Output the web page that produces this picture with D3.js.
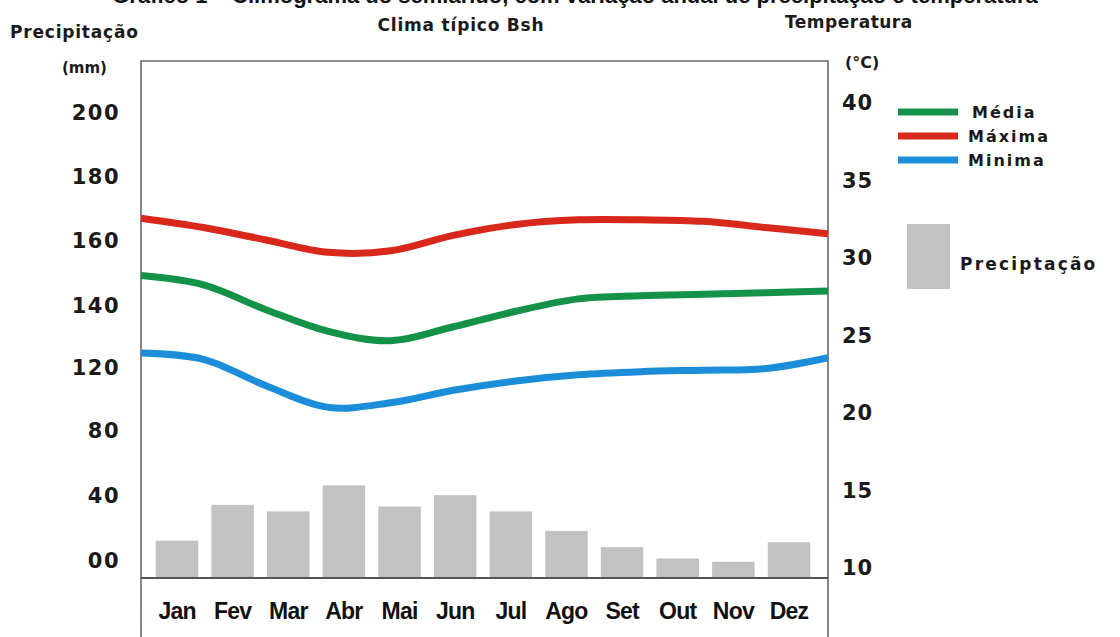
<!DOCTYPE html>
<html>
<head>
<meta charset="utf-8">
<script src="https://cdn.jsdelivr.net/npm/d3@7"></script>
<style>
  html, body { margin: 0; padding: 0; background: #fff; }
  svg { display: block; }
  .lbl { font-family: "DejaVu Sans", "Liberation Sans", Arial, sans-serif; font-weight: bold; fill: #1a1a1a; }
  .mon { font-family: "Liberation Sans Narrow", "Liberation Sans", Arial, sans-serif; font-weight: bold; fill: #111; }
  .ttl { font-family: "Liberation Sans", Arial, sans-serif; font-weight: bold; fill: #111; }
</style>
</head>
<body>
<script>
// Climograma: precipitação mensal (barras) e temperaturas (linhas)
const months = ["Jan","Fev","Mar","Abr","Mai","Jun","Jul","Ago","Set","Out","Nov","Dez"];
const precip = [23, 45, 41, 57, 44, 51, 41, 29, 19, 12, 10, 22];          // mm
const tMedia  = [28.8, 28.2, 26.6, 25.2, 24.6, 25.5, 26.5, 27.3, 27.5, 27.6, 27.7, 27.8];
const tMaxima = [32.5, 31.9, 31.1, 30.3, 30.4, 31.4, 32.1, 32.4, 32.4, 32.3, 31.9, 31.5];
const tMinima = [23.8, 23.4, 21.7, 20.3, 20.6, 21.4, 22.0, 22.4, 22.6, 22.7, 22.8, 23.5];
const precipTicks = [0, 40, 80, 120, 140, 160, 180, 200];
const precipTickLabels = ["00", "40", "80", "120", "140", "160", "180", "200"];
const tempTicks = [10, 15, 20, 25, 30, 35, 40];

const W = 1120, H = 637;
const frame = { left: 141, right: 828, top: 61, base: 578 };

const svg = d3.select("body").append("svg").attr("width", W).attr("height", H);

// Título da figura (linha superior, recortada pela borda)
svg.append("text").attr("class", "ttl").attr("x", 575).attr("y", 3).attr("font-size", 22)
  .attr("text-anchor", "middle")
  .text("Gráfico 1 – Climograma do semiárido, com variação anual de precipitação e temperatura");

// Escalas
const yPrec = d3.scaleLinear()
  .domain(precipTicks)
  .range([578, 513, 448, 385, 323, 258, 194, 130]);
const yTemp = d3.scaleLinear().domain([10, 40]).range([567, 102]);
const xBand = d3.scaleBand().domain(months).range([149.2, 816.8]).paddingInner(0.236).paddingOuter(0.118);
const xLine = d3.scalePoint().domain(months).range([frame.left, frame.right]);

// Barras de precipitação
svg.append("g").selectAll("rect").data(precip).join("rect")
  .attr("x", (d, i) => xBand(months[i]))
  .attr("width", xBand.bandwidth())
  .attr("y", d => yPrec(d))
  .attr("height", d => yPrec(0) - yPrec(d))
  .attr("fill", "#c2c2c2");

// Moldura do gráfico
const fr = svg.append("g").attr("stroke", "#6a6a6a").attr("stroke-width", 1.6).attr("fill", "none");
fr.append("path").attr("d", `M${frame.left},${H + 2} V${frame.top} H${frame.right} V${H + 2}`);
fr.append("line").attr("x1", frame.left).attr("x2", frame.right).attr("y1", frame.base).attr("y2", frame.base)
  .attr("stroke", "#555").attr("stroke-width", 2);

// Linhas de temperatura
const line = d3.line()
  .x((d, i) => xLine(months[i]))
  .y(d => yTemp(d))
  .curve(d3.curveCatmullRom.alpha(0.5));
const series = [
  { name: "Máxima", values: tMaxima, color: "#d8281c" },
  { name: "Média",  values: tMedia,  color: "#149247" },
  { name: "Minima", values: tMinima, color: "#1c8ed9" }
];
svg.append("g").selectAll("path").data(series).join("path")
  .attr("d", s => line(s.values))
  .attr("fill", "none")
  .attr("stroke", s => s.color)
  .attr("stroke-width", 7)
  .attr("stroke-linecap", "butt");

// Eixo esquerdo (mm) — rótulos acima da posição do valor
const axL = svg.append("g").attr("transform", `translate(${frame.left},0)`)
  .call(d3.axisLeft(yPrec).tickValues(precipTicks).tickSize(0).tickPadding(21)
    .tickFormat((d, i) => precipTickLabels[i]));
axL.select(".domain").remove();
axL.selectAll("text").attr("class", "lbl").attr("font-size", 21).attr("dy", "-0.5em")
  .attr("letter-spacing", 1.5).style("font-family", null);

// Eixo direito (°C)
const axR = svg.append("g").attr("transform", `translate(${frame.right},0)`)
  .call(d3.axisRight(yTemp).tickValues(tempTicks).tickSize(0).tickPadding(14));
axR.select(".domain").remove();
axR.selectAll("text").attr("class", "lbl").attr("font-size", 21).attr("dy", "0.36em")
  .attr("letter-spacing", 1).style("font-family", null);

// Eixo dos meses
const axB = svg.append("g").attr("transform", `translate(0,${frame.base})`)
  .call(d3.axisBottom(xBand).tickSize(0).tickPadding(25));
axB.select(".domain").remove();
axB.selectAll("text").attr("class", "mon").attr("font-size", 23).attr("letter-spacing", -0.8)
  .style("font-family", null);

// Títulos dos eixos
svg.append("text").attr("class", "lbl").attr("x", 10).attr("y", 38).attr("font-size", 17)
  .attr("letter-spacing", 0.8).text("Precipitação");
svg.append("text").attr("class", "lbl").attr("x", 62).attr("y", 73).attr("font-size", 15)
  .text("(mm)");
svg.append("text").attr("class", "lbl").attr("x", 461).attr("y", 31).attr("font-size", 17)
  .attr("text-anchor", "middle").attr("letter-spacing", 0.8).text("Clima típico Bsh");
svg.append("text").attr("class", "lbl").attr("x", 785).attr("y", 28).attr("font-size", 17)
  .attr("letter-spacing", 0.5).text("Temperatura");
svg.append("text").attr("class", "lbl").attr("x", 845).attr("y", 68).attr("font-size", 16)
  .text("(°C)");

// Legenda
const leg = svg.append("g");
const legItems = [series[1], series[0], series[2]];
legItems.forEach((s, i) => {
  const y = 112 + i * 24;
  leg.append("line").attr("x1", 898).attr("x2", 958).attr("y1", y).attr("y2", y)
    .attr("stroke", s.color).attr("stroke-width", 7);
  leg.append("text").attr("class", "lbl").attr("x", i === 0 ? 972 : 968).attr("y", y + 6)
    .attr("font-size", 16).attr("letter-spacing", 2).text(s.name);
});
leg.append("rect").attr("x", 907).attr("y", 224).attr("width", 43).attr("height", 65).attr("fill", "#c2c2c2");
leg.append("text").attr("class", "lbl").attr("x", 960).attr("y", 270).attr("font-size", 17)
  .attr("letter-spacing", 2.2).text("Preciptação");
</script>
</body>
</html>
